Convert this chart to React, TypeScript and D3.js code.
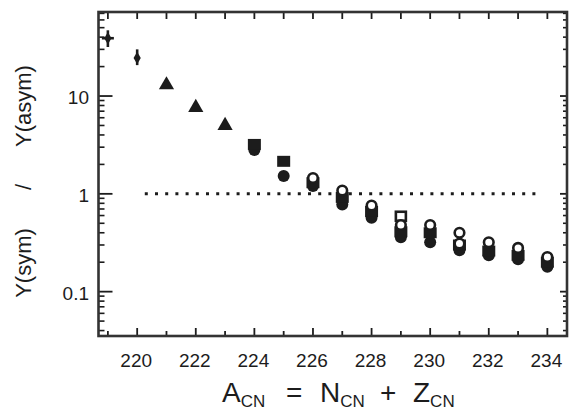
import React from "react";
import * as d3 from "d3";

// ---- data ----
const xTickLabels = [220, 222, 224, 226, 228, 230, 232, 234];
const xMinorTicks = [219, 220, 221, 222, 223, 224, 225, 226, 227, 228, 229, 230, 231, 232, 233, 234];
const yMajorTicks = [0.1, 1, 10];
const yTickLabels = ["0.1", "1", "10"];

// points with vertical error bars: [A, value, low, high]
const errorPoints: [number, number, number, number][] = [
  [219, 39, 31.7, 47],
  [220, 24.5, 20.7, 30],
];
const trianglePoints: [number, number][] = [
  [221, 13.3],
  [222, 7.8],
  [223, 5.1],
];
const filledSquares: [number, number][] = [
  [224, 3.2], [225, 2.15], [226, 1.3], [227, 0.92], [228, 0.66], [229, 0.41],
  [230, 0.4], [231, 0.3], [232, 0.26], [233, 0.235], [234, 0.2],
];
const filledCircles: [number, number][] = [
  [224, 2.8], [225, 1.52], [226, 1.2], [227, 0.78], [228, 0.57], [229, 0.36],
  [230, 0.32], [231, 0.265], [232, 0.235], [233, 0.215], [234, 0.18],
];
const openSquares: [number, number][] = [
  [229, 0.59],
];
const openCircles: [number, number][] = [
  [226, 1.45], [227, 1.08], [228, 0.76], [229, 0.48], [230, 0.48],
  [231, 0.4], [231, 0.31], [232, 0.32], [233, 0.28], [234, 0.226],
];
const refLine = { from: 220.26, to: 233.8, value: 1 };

const W = 569;
const H = 413;
const L = 98.5, R = 567, T = 12, B = 336;
const INK = "#1c1c1c";
const FONT = "'Liberation Sans', Arial, Helvetica, sans-serif";

export default function App() {
  const x = d3.scaleLinear().domain([218.68, 234.67]).range([L, R]);
  const y = d3.scaleLog().domain([0.0352, 72.3]).range([B, T]);
  const yMinor = y.ticks().filter((v) => !yMajorTicks.some((m) => Math.abs(m - v) < 1e-9));

  const tri = d3.symbol().type(d3.symbolTriangle).size(100)();
  const diamond = d3.symbol().type(d3.symbolDiamond).size(45)();

  return (
    <svg
      width={W}
      height={H}
      style={{ position: "absolute", left: 0, top: 0, background: "#fff" }}
      fontFamily={FONT}
    >
      <rect x={0} y={0} width={W} height={H} fill="#fff" />

      {/* reference line at 1 */}
      <line
        x1={x(refLine.from)}
        x2={x(refLine.to)}
        y1={y(refLine.value)}
        y2={y(refLine.value)}
        stroke={INK}
        strokeWidth={3}
        strokeDasharray="3 7.2"
      />

      {/* x ticks (bottom, pointing up; top, pointing down) */}
      {xMinorTicks.map((t) => {
        const major = t % 2 === 0;
        const len = major ? 8 : 5;
        return (
          <g key={"xt" + t} stroke={INK} strokeWidth={1.8}>
            <line x1={x(t)} x2={x(t)} y1={B} y2={B - len} />
            <line x1={x(t)} x2={x(t)} y1={T} y2={T + 7} />
          </g>
        );
      })}

      {/* y ticks */}
      {yMajorTicks.map((t) => (
        <g key={"yM" + t} stroke={INK} strokeWidth={1.8}>
          <line x1={L} x2={L + 14} y1={y(t)} y2={y(t)} />
          <line x1={R} x2={R - 7} y1={y(t)} y2={y(t)} />
        </g>
      ))}
      {yMinor.map((t) => (
        <g key={"ym" + t} stroke={INK} strokeWidth={1.6}>
          <line x1={L} x2={L + 6} y1={y(t)} y2={y(t)} />
          <line x1={R} x2={R - 4} y1={y(t)} y2={y(t)} />
        </g>
      ))}

      {/* frame */}
      <rect x={L} y={T} width={R - L} height={B - T} fill="none" stroke="#333" strokeWidth={2.6} />

      {/* x tick labels */}
      {xTickLabels.map((t) => (
        <text key={"xl" + t} x={x(t) - 1} y={367} textAnchor="middle" fontSize={19} fill={INK}>
          {t}
        </text>
      ))}

      {/* y tick labels */}
      {yMajorTicks.map((t, i) => (
        <text key={"yl" + t} x={89} y={y(t) + 8} textAnchor="end" fontSize={19} fill={INK}>
          {yTickLabels[i]}
        </text>
      ))}

      {/* error-bar points */}
      {errorPoints.map(([a, v, lo, hi], i) => (
        <g key={"ep" + a} stroke={INK} fill={INK}>
          <line x1={x(a)} x2={x(a)} y1={y(lo)} y2={y(hi)} strokeWidth={2.6} />
          {i === 0 && (
            <line x1={x(a) - 6} x2={x(a) + 6} y1={y(v)} y2={y(v)} strokeWidth={2.6} />
          )}
          <path d={diamond} transform={`translate(${x(a)},${y(v)})`} stroke="none" />
        </g>
      ))}

      {/* triangles */}
      {trianglePoints.map(([a, v]) => (
        <path key={"tr" + a} d={tri} transform={`translate(${x(a)},${y(v) + 1})`} fill={INK} />
      ))}

      {/* filled circles */}
      {filledCircles.map(([a, v], i) => (
        <circle key={"fc" + i} cx={x(a)} cy={y(v)} r={6} fill={INK} />
      ))}

      {/* filled squares */}
      {filledSquares.map(([a, v], i) => (
        <rect key={"fs" + i} x={x(a) - 6.5} y={y(v) - 5.5} width={13} height={11} fill={INK} />
      ))}

      {/* open squares */}
      {openSquares.map(([a, v], i) => (
        <rect key={"os" + i} x={x(a) - 5} y={y(v) - 4.5} width={10} height={9} fill="#fff" stroke={INK} strokeWidth={2.6} />
      ))}

      {/* open circles */}
      {openCircles.map(([a, v], i) => (
        <circle key={"oc" + i} cx={x(a)} cy={y(v)} r={4.8} fill="#fff" stroke={INK} strokeWidth={2.6} />
      ))}

      {/* y axis title */}
      <g transform="rotate(-90)" fill={INK} fontSize={22}>
        <text x={-263} y={31} textAnchor="middle">Y(sym)</text>
        <text x={-187} y={31} textAnchor="middle">/</text>
        <text x={-106} y={31} textAnchor="middle">Y(asym)</text>
      </g>

      {/* x axis title */}
      <text y={402} fill={INK} fontSize={28}>
        <tspan x={222}>A</tspan>
        <tspan dy={5} fontSize={17}>CN</tspan>
        <tspan x={286} dy={-5}>=</tspan>
        <tspan x={320}>N</tspan>
        <tspan dy={5} fontSize={17}>CN</tspan>
        <tspan x={380} dy={-5}>+</tspan>
        <tspan x={413}>Z</tspan>
        <tspan dy={5} fontSize={17}>CN</tspan>
      </text>
    </svg>
  );
}
